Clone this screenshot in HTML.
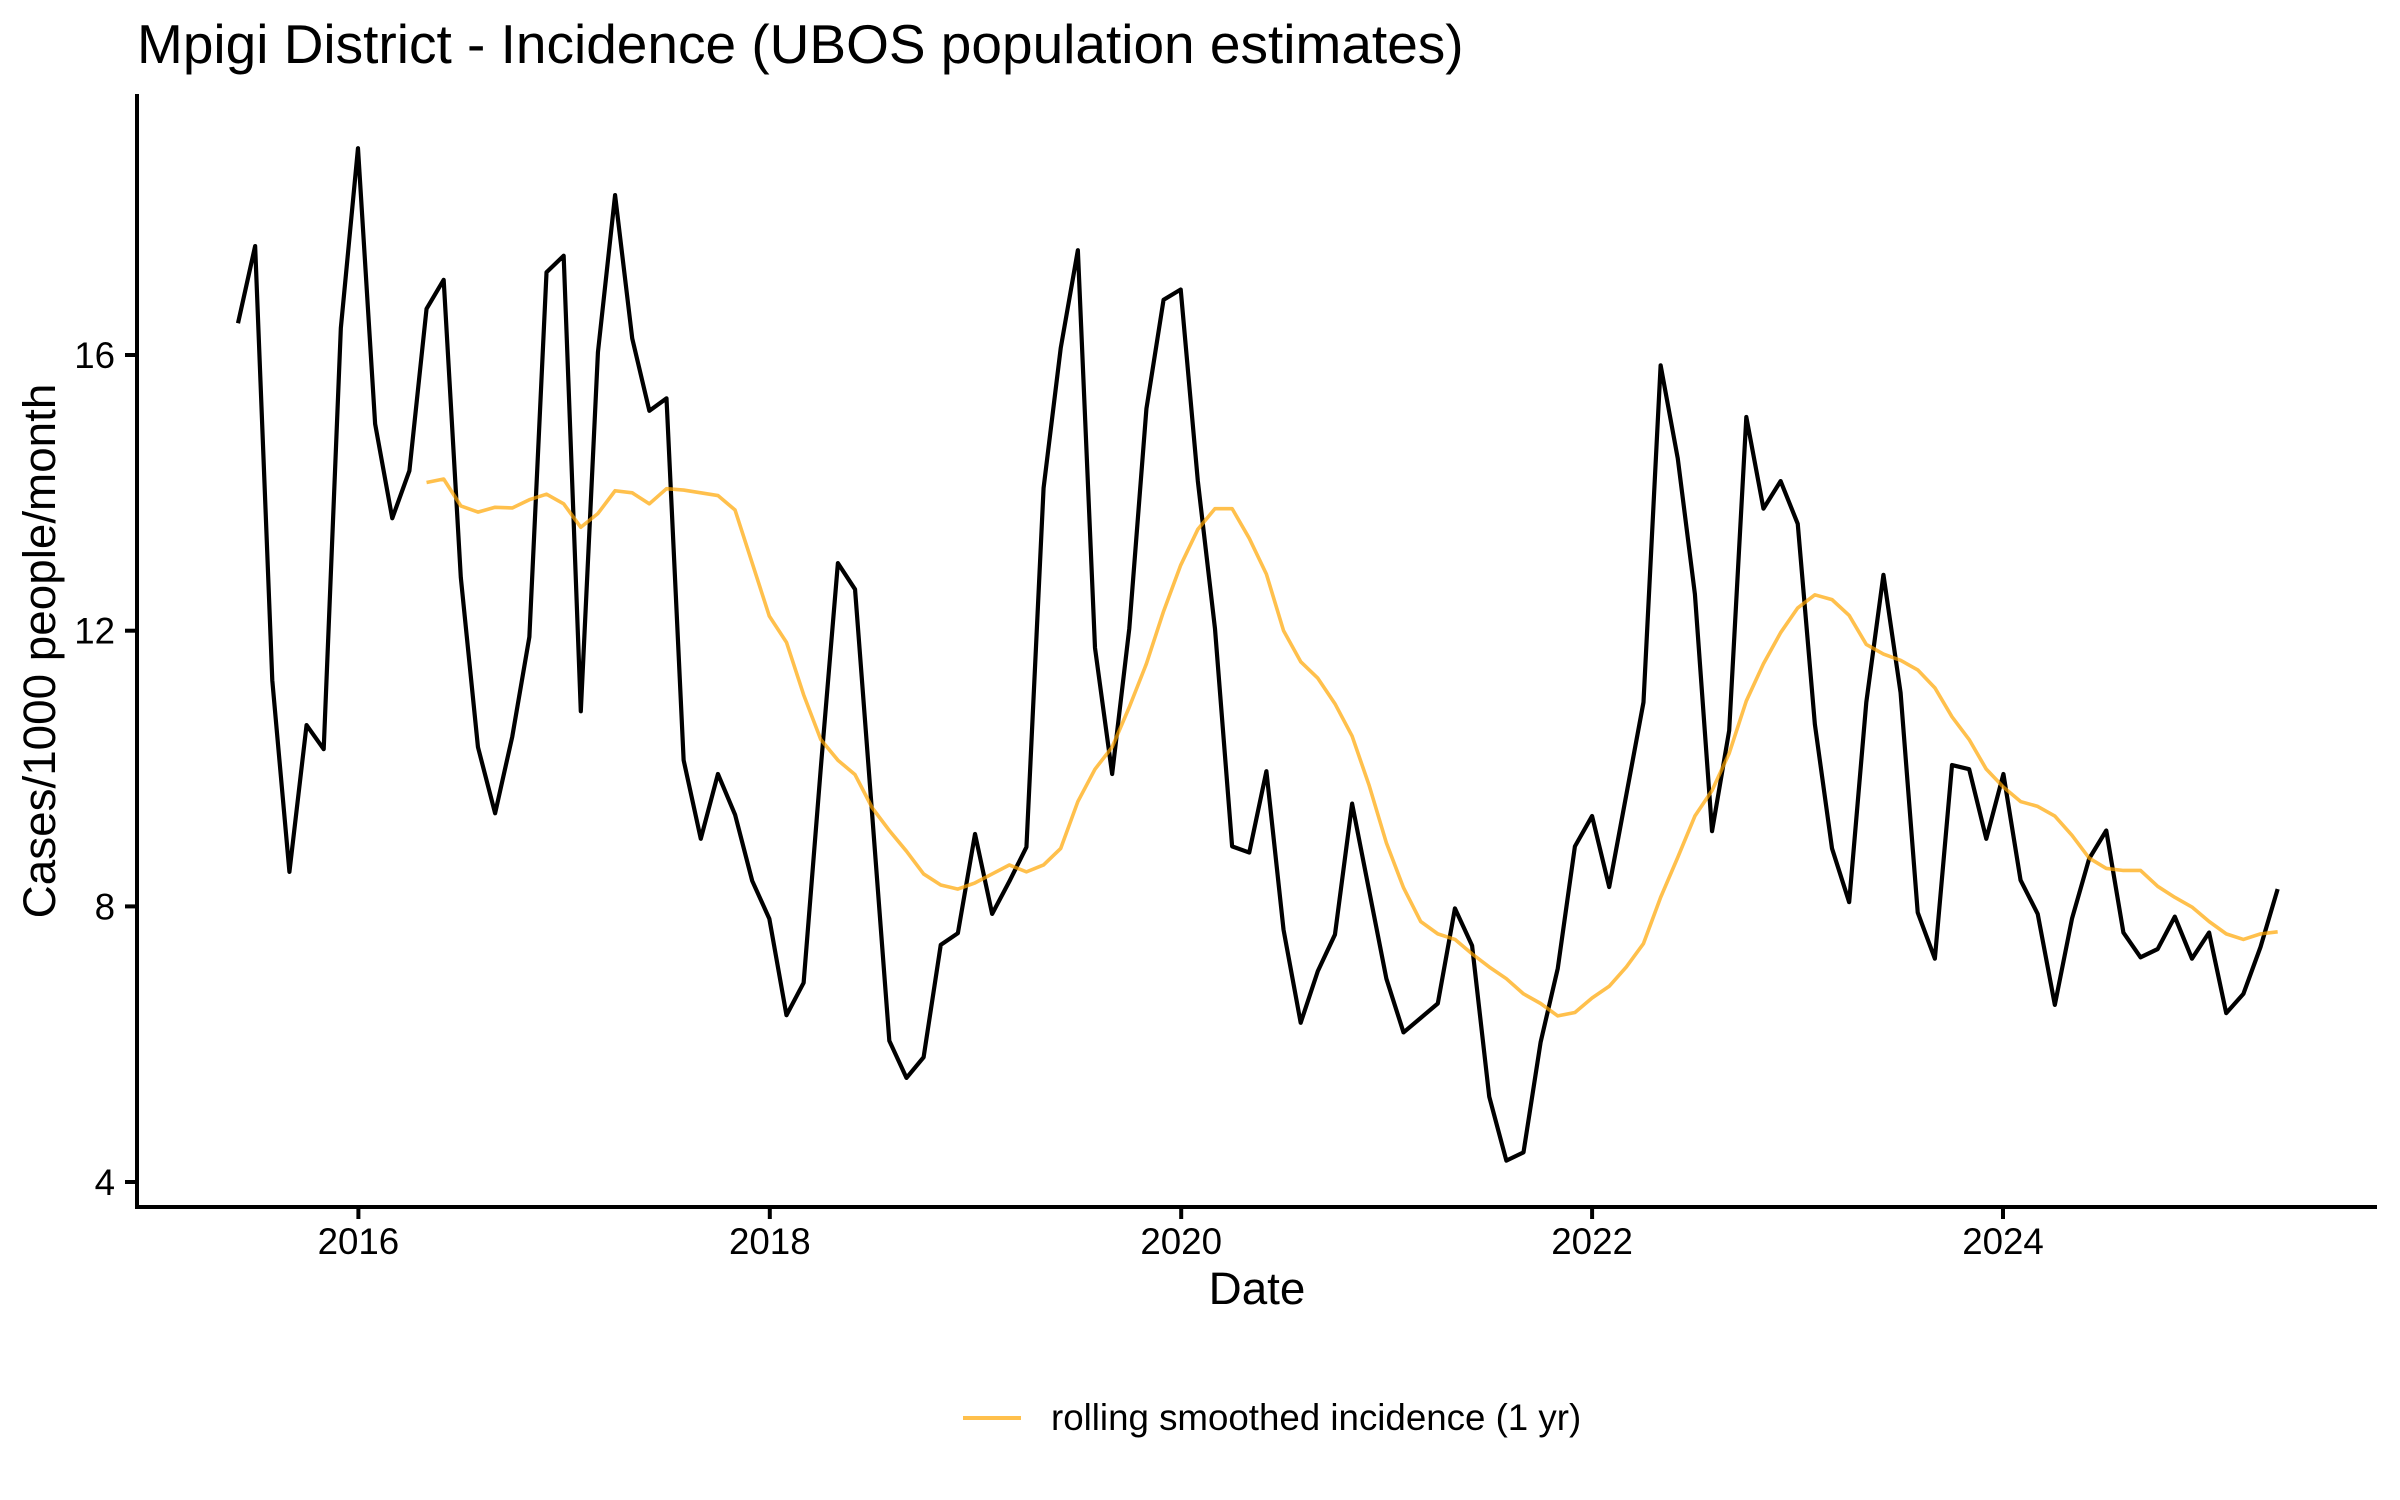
<!DOCTYPE html>
<html>
<head>
<meta charset="utf-8">
<style>
  html, body { margin: 0; padding: 0; background: #ffffff; }
  svg { display: block; }
  text { font-family: "Liberation Sans", Arial, sans-serif; fill: #000000; }
</style>
</head>
<body>
<svg width="2400" height="1500" viewBox="0 0 2400 1500" xmlns="http://www.w3.org/2000/svg">
  <rect x="0" y="0" width="2400" height="1500" fill="#ffffff"/>

  <!-- Title -->
  <text x="137" y="63" font-size="55">Mpigi District - Incidence (UBOS population estimates)</text>

  <!-- Data series: transform maps (monthIndex, value) to pixels -->
  <g transform="matrix(17.14 0 0 -68.92 238 1457.68)">
    <polyline fill="none" stroke="#000000" stroke-width="4.2" stroke-linejoin="round" stroke-linecap="butt" vector-effect="non-scaling-stroke"
      points="0,16.46 1,17.58 2,11.28 3,8.50 4,10.63 5,10.28 6,16.39 7,19.0 8,15.0 9,13.63 10,14.32 11,16.67 12,17.09 13,12.77 14,10.31 15,9.35 16,10.46 17,11.91 18,17.2 19,17.44 20,10.83 21,16.04 22,18.32 23,16.24 24,15.19 25,15.37 26,10.12 27,8.98 28,9.92 29,9.33 30,8.37 31,7.82 32,6.42 33,6.89 34,10.0 35,12.98 36,12.6 37,9.33 38,6.05 39,5.51 40,5.81 41,7.44 42,7.61 43,9.05 44,7.89 45,8.36 46,8.86 47,14.07 48,16.1 49,17.52 50,11.75 51,9.92 52,12.03 53,15.22 54,16.8 55,16.95 56,14.17 57,12.03 58,8.87 59,8.78 60,9.96 61,7.66 62,6.31 63,7.06 64,7.59 65,9.49 66,8.22 67,6.95 68,6.17 69,6.38 70,6.59 71,7.97 72,7.43 73,5.24 74,4.31 75,4.43 76,6.03 77,7.1 78,8.87 79,9.31 80,8.28 81,9.62 82,10.96 83,15.85 84,14.5 85,12.53 86,9.09 87,10.55 88,15.1 89,13.77 90,14.17 91,13.55 92,10.64 93,8.84 94,8.06 95,10.96 96,12.81 97,11.1 98,7.91 99,7.24 100,10.05 101,9.99 102,8.98 103,9.92 104,8.38 105,7.89 106,6.57 107,7.82 108,8.69 109,9.1 110,7.62 111,7.26 112,7.38 113,7.85 114,7.24 115,7.62 116,6.45 117,6.73 118,7.41 119,8.25"/>
    <polyline fill="none" stroke="#FFA500" stroke-opacity="0.7" stroke-width="3.6" stroke-linejoin="round" stroke-linecap="butt" vector-effect="non-scaling-stroke"
      points="11,14.15 12,14.2 13,13.81 14,13.72 15,13.79 16,13.78 17,13.9 18,13.98 19,13.84 20,13.5 21,13.7 22,14.03 23,14.0 24,13.84 25,14.06 26,14.04 27,14.0 28,13.96 29,13.75 30,12.98 31,12.21 32,11.83 33,11.07 34,10.42 35,10.12 36,9.91 37,9.43 38,9.1 39,8.8 40,8.47 41,8.31 42,8.25 43,8.34 44,8.47 45,8.6 46,8.5 47,8.6 48,8.84 49,9.52 50,9.99 51,10.31 52,10.89 53,11.52 54,12.28 55,12.95 56,13.47 57,13.77 58,13.77 59,13.34 60,12.82 61,12.0 62,11.55 63,11.31 64,10.94 65,10.47 66,9.75 67,8.92 68,8.27 69,7.78 70,7.6 71,7.52 72,7.31 73,7.12 74,6.95 75,6.73 76,6.59 77,6.41 78,6.46 79,6.67 80,6.84 81,7.12 82,7.46 83,8.13 84,8.71 85,9.31 86,9.68 87,10.22 88,10.98 89,11.52 90,11.97 91,12.33 92,12.52 93,12.45 94,12.22 95,11.8 96,11.66 97,11.57 98,11.43 99,11.17 100,10.75 101,10.42 102,9.99 103,9.73 104,9.52 105,9.45 106,9.31 107,9.03 108,8.70 109,8.55 110,8.52 111,8.52 112,8.29 113,8.13 114,7.99 115,7.78 116,7.6 117,7.52 118,7.6 119,7.63"/>
  </g>

  <!-- Axes lines -->
  <line x1="137" y1="94" x2="137" y2="1209" stroke="#000" stroke-width="4"/>
  <line x1="135" y1="1207" x2="2377" y2="1207" stroke="#000" stroke-width="4"/>

  <!-- Y ticks -->
  <g stroke="#000" stroke-width="4">
    <line x1="125" y1="355" x2="137" y2="355"/>
    <line x1="125" y1="630.7" x2="137" y2="630.7"/>
    <line x1="125" y1="906.4" x2="137" y2="906.4"/>
    <line x1="125" y1="1182" x2="137" y2="1182"/>
  </g>
  <g font-size="36.7" text-anchor="end">
    <text x="115" y="368">16</text>
    <text x="115" y="643.7">12</text>
    <text x="115" y="919.4">8</text>
    <text x="115" y="1195">4</text>
  </g>

  <!-- X ticks -->
  <g stroke="#000" stroke-width="4">
    <line x1="358.4" y1="1207" x2="358.4" y2="1219"/>
    <line x1="769.8" y1="1207" x2="769.8" y2="1219"/>
    <line x1="1181.2" y1="1207" x2="1181.2" y2="1219"/>
    <line x1="1592.1" y1="1207" x2="1592.1" y2="1219"/>
    <line x1="2003" y1="1207" x2="2003" y2="1219"/>
  </g>
  <g font-size="36.7" text-anchor="middle">
    <text x="358.4" y="1254">2016</text>
    <text x="769.8" y="1254">2018</text>
    <text x="1181.2" y="1254">2020</text>
    <text x="1592.1" y="1254">2022</text>
    <text x="2003" y="1254">2024</text>
  </g>

  <!-- Axis titles -->
  <text x="1257" y="1304" font-size="45.8" text-anchor="middle">Date</text>
  <text transform="translate(55,651) rotate(-90)" font-size="45.8" text-anchor="middle">Cases/1000 people/month</text>

  <!-- Legend -->
  <line x1="963" y1="1418" x2="1021" y2="1418" stroke="#FFA500" stroke-opacity="0.7" stroke-width="4"/>
  <text x="1051" y="1430" font-size="36.7">rolling smoothed incidence (1 yr)</text>
</svg>
</body>
</html>
